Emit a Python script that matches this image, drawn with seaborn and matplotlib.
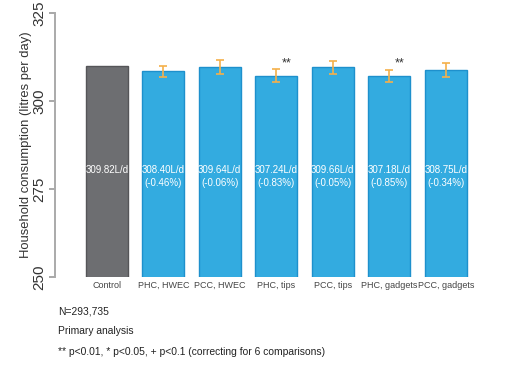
import numpy as np
import pandas as pd
import matplotlib
matplotlib.use("Agg")
import matplotlib.pyplot as plt
import seaborn as sns

# Data
groups = ["Control", "PHC, HWEC", "PCC, HWEC", "PHC, tips",
          "PCC, tips", "PHC, gadgets", "PCC, gadgets"]
consumption = [309.82, 308.40, 309.64, 307.24, 309.66, 307.18, 308.75]
change_pct = [None, -0.46, -0.06, -0.83, -0.05, -0.85, -0.34]
err = [0.0, 1.6, 2.0, 1.75, 1.85, 1.65, 1.95]
stars = ["", "", "", "**", "", "**", ""]

sns.set_style("white")
plt.rcParams["font.family"] = ["Liberation Sans", "DejaVu Sans"]

df = pd.DataFrame({"group": groups, "value": consumption})
colors = ["#6d6e71"] + ["#33abe0"] * (len(groups) - 1)
edges = ["#555558"] + ["#1e90cc"] * (len(groups) - 1)

fig = plt.figure(figsize=(5.12, 3.72), dpi=100)
ax = fig.add_axes([0.107, 0.255, 0.83, 0.71])

sns.barplot(data=df, x="group", y="value", hue="group", palette=colors,
            legend=False, width=0.74, ax=ax, saturation=1)
for patch, ec in zip(ax.patches, edges):
    patch.set_edgecolor(ec)
    patch.set_linewidth(1.0)

x = np.arange(len(groups))
mask = np.array(err) > 0
ax.errorbar(x[mask], np.array(consumption)[mask], yerr=np.array(err)[mask],
            fmt="none", ecolor="#f5b04a", elinewidth=1.2, capsize=3, capthick=1.2)

for i, (v, p) in enumerate(zip(consumption, change_pct)):
    label = f"{v:.2f}L/d" if p is None else f"{v:.2f}L/d\n({p:.2f}%)"
    ax.text(i, 278.5 if p is not None else 280.5, label, ha="center", va="center",
            color="white", fontsize=7, linespacing=1.35)
    if stars[i]:
        ax.text(i + 0.18, consumption[i] + err[i] + 0.1, stars[i], ha="center",
                va="bottom", fontsize=9, color="#333333")

ax.set_ylim(250, 325)
ax.set_xlim(-0.92, 6.6)
ax.set_yticks([250, 275, 300, 325])
ax.set_yticklabels(["250", "275", "300", "325"], rotation=90, va="center",
                   fontsize=11, color="#333333")
ax.set_ylabel("Household consumption (litres per day)", fontsize=9.4,
              color="#333333", labelpad=0)
ax.set_xlabel("")
ax.tick_params(axis="x", length=0, labelsize=6.5, colors="#444444", pad=3)
ax.tick_params(axis="y", left=True, length=4, width=1.2, color="#999999", pad=2)

for side in ["top", "right", "bottom"]:
    ax.spines[side].set_visible(False)
ax.spines["left"].set_color("#aaaaaa")
ax.spines["left"].set_linewidth(1.4)

fig.text(58 / 512, 1 - 311 / 372, "N=293,735", fontsize=7.4, color="#222222", va="center")
fig.text(58 / 512, 1 - 331 / 372, "Primary analysis", fontsize=7.4, color="#222222", va="center")
fig.text(58 / 512, 1 - 352 / 372,
         "** p<0.01, * p<0.05, + p<0.1 (correcting for 6 comparisons)",
         fontsize=7.4, color="#222222", va="center")

fig.savefig("out.png", dpi=100, facecolor="white")
